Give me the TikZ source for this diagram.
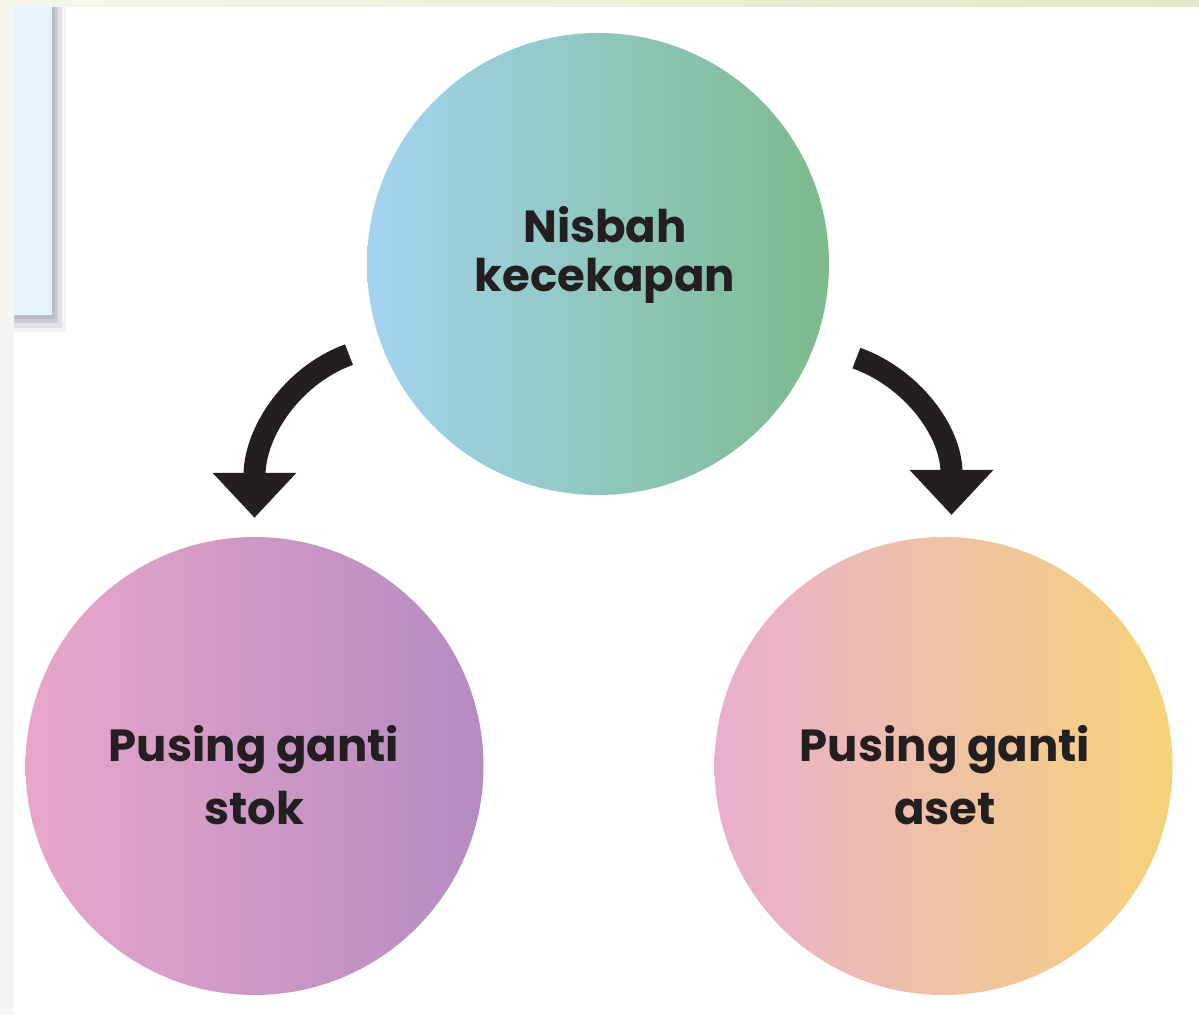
\documentclass[tikz,border=0pt]{standalone}
\usepackage{fontspec}
\setmainfont{Poppins}
\usetikzlibrary{arrows.meta,calc}

\definecolor{paper}{HTML}{F6F6EE}
\definecolor{band}{HTML}{E3E8C8}
\definecolor{panel}{HTML}{E6F3FB}
\definecolor{shadowgray}{HTML}{B4B8C2}
\definecolor{ink}{HTML}{231F20}
\definecolor{effleft}{HTML}{A2D4F0}
\definecolor{effright}{HTML}{7DBA8C}
\definecolor{stockleft}{HTML}{E8A6C9}
\definecolor{stockright}{HTML}{B48BC1}
\definecolor{assetleft}{HTML}{E9AFCF}
\definecolor{assetright}{HTML}{F6D37A}

\tikzset{
	ratio/.style={circle, minimum size=#1, inner sep=0pt},
	ratiotext/.style={anchor=base, align=center, text=ink, inner sep=0pt},
	bigarrow/.style={ink, line width=22pt, -{Triangle[width=81pt,length=45pt]}}
}

\begin{document}
\begin{tikzpicture}[x=1pt, y=1pt]
	\useasboundingbox (0, 0) rectangle (1199, 1015);
	\fill [paper] (0, 0) rectangle (1199, 1015);
	\shade [left color=paper, right color=band] (0, 1008) rectangle (1199, 1015);
	\fill [white] (14, 0) rectangle (1199, 1008);
	\fill [shadowgray, opacity=0.15] (14, 683) rectangle (66, 1008);
	\fill [shadowgray, opacity=0.3] (14, 687) rectangle (62, 1008);
	\fill [shadowgray, opacity=0.5] (14, 692) rectangle (58, 1008);
	\fill [shadowgray, opacity=0.7] (14, 696) rectangle (55, 1008);
	\fill [panel] (14, 700) rectangle (52, 1008);

	\node [ratio=462pt, left color=effleft, right color=effright] (eff) at (598, 751) {};
	\node [ratio=458pt, left color=stockleft, right color=stockright] (stock) at (254.5, 249) {};
	\node [ratio=458pt, left color=assetleft, right color=assetright] (asset) at (943.5, 249) {};

	\node [ratiotext, font=\fontsize{45}{49}\selectfont\bfseries] (effname) at (605, 723) {Nisbah\\kecekapan};
	\node [ratiotext, font=\fontsize{45}{63}\selectfont\bfseries] (stockname) at (254, 190) {Pusing ganti\\stok};
	\node [ratiotext, font=\fontsize{45}{63}\selectfont\bfseries] (assetname) at (945, 190) {Pusing ganti\\aset};

	\coordinate (effL) at ($(eff.center)+(200:265pt)$);
	\coordinate (effR) at ($(eff.center)+(340:275pt)$);
	\draw [bigarrow, shorten >=19pt] (effL) .. controls +(200:60pt) and +(90:105pt) .. (stock.north);
	\draw [bigarrow, shorten >=22pt] (effR) .. controls +(340:60pt) and +(90:105pt) .. (asset.88);
\end{tikzpicture}
\end{document}
